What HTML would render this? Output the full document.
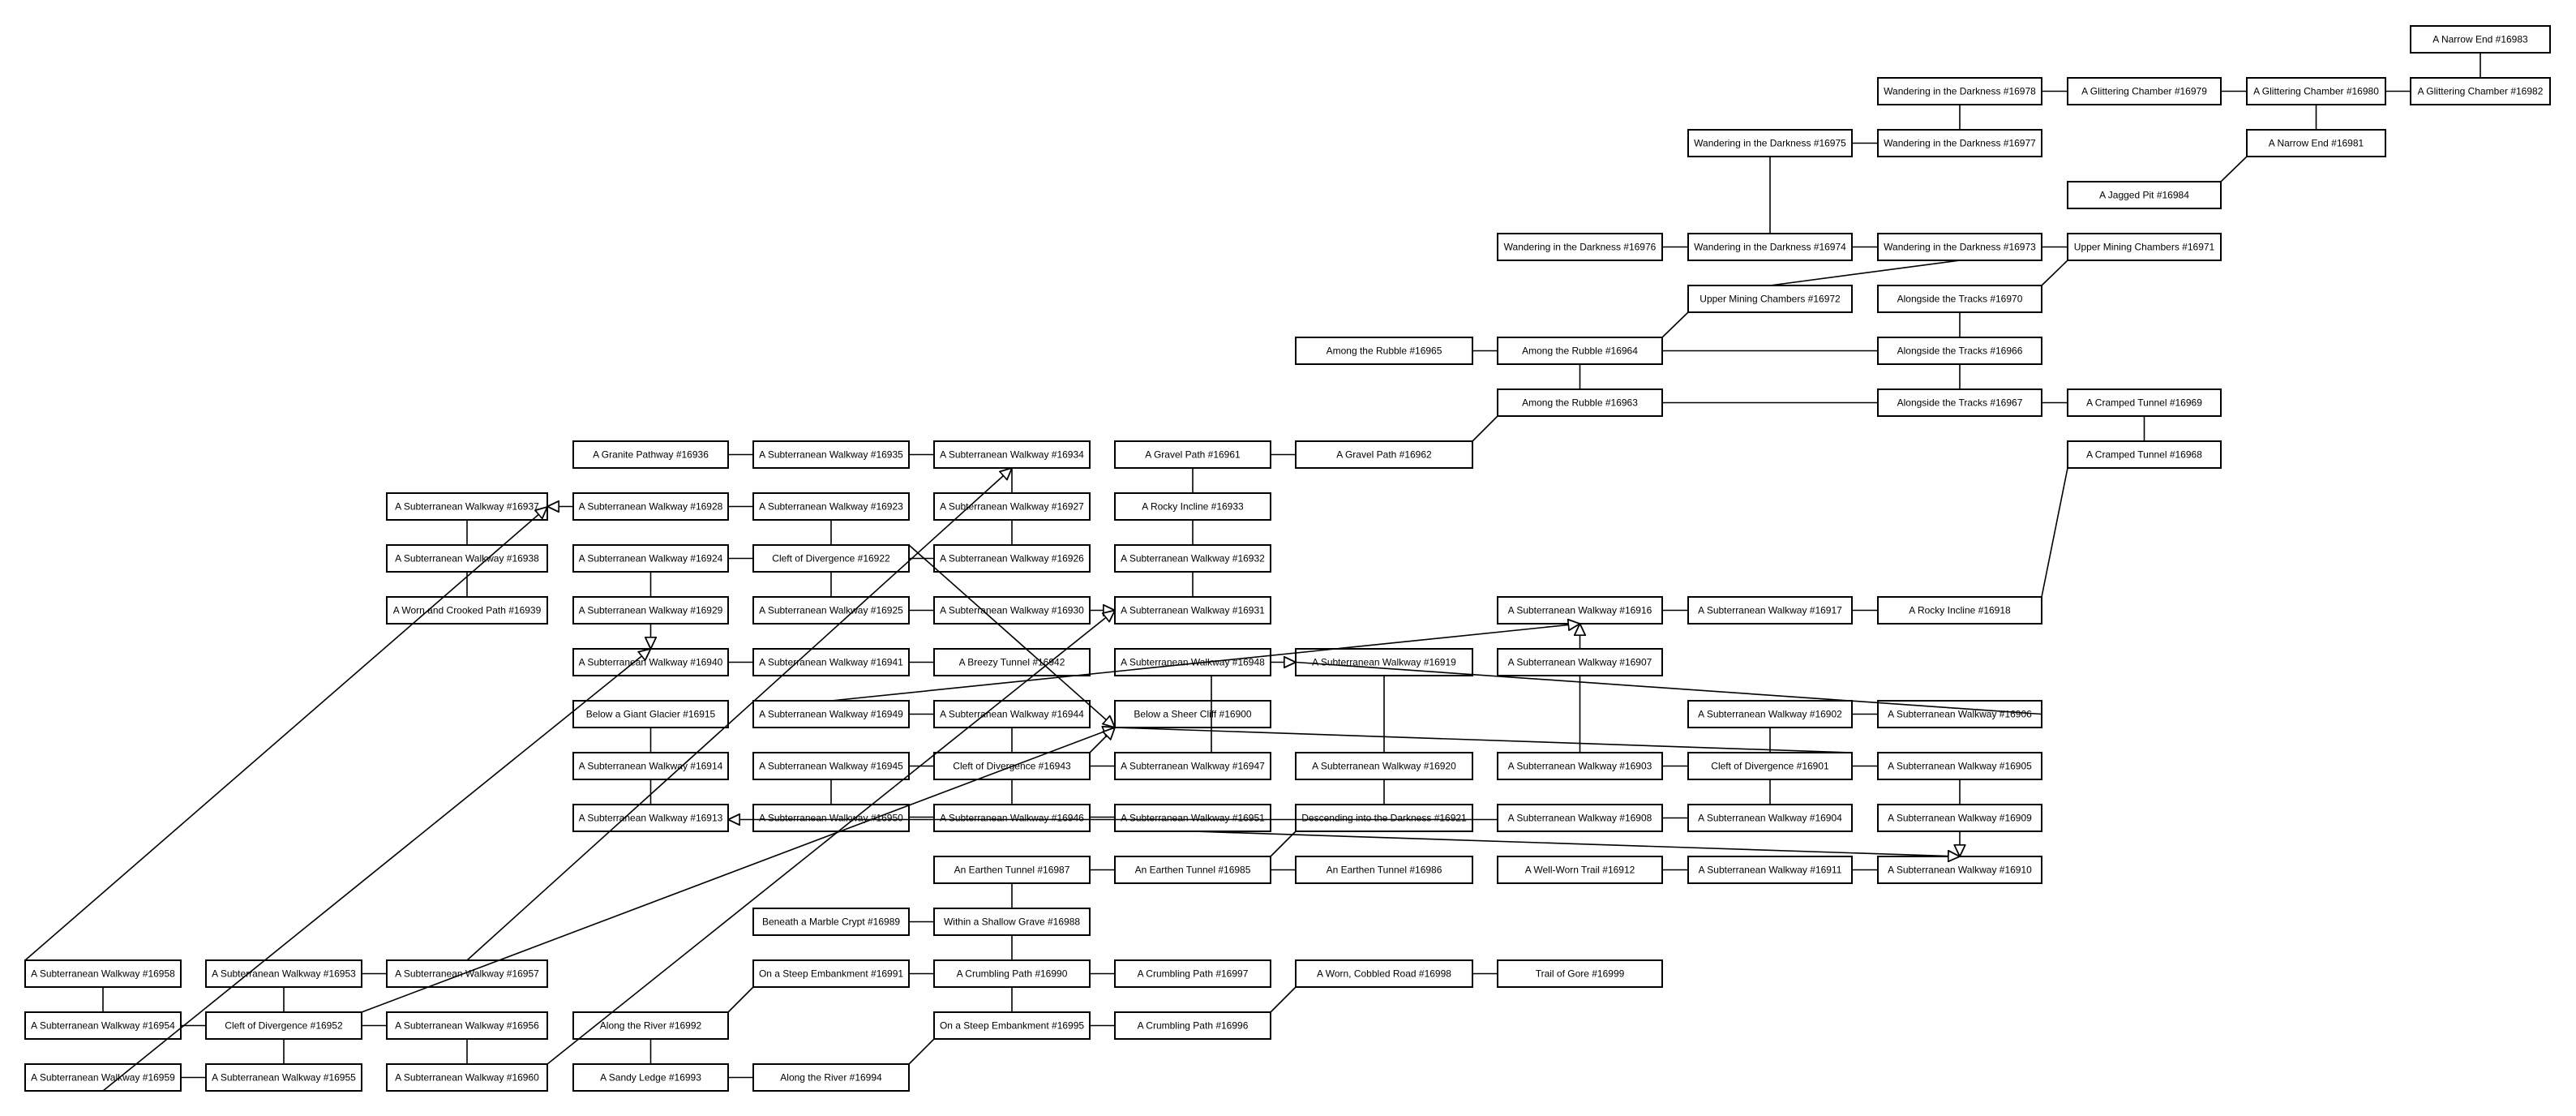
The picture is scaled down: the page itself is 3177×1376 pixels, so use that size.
<!DOCTYPE html>
<html><head><meta charset="utf-8"><style>
html,body{margin:0;padding:0;background:#fff;}
svg{display:block;}
text{font-family:"Liberation Sans",sans-serif;font-size:12px;text-anchor:middle;fill:#000;}
rect{fill:#fff;stroke:#000;stroke-width:2;}
line{stroke:#000;stroke-width:1.6;}
</style></head><body>
<svg width="3177" height="1376" viewBox="0 0 3177 1376" xmlns="http://www.w3.org/2000/svg">
<defs>
<marker id="a" viewBox="0 0 10 10" refX="10" refY="5" markerWidth="15" markerHeight="15" markerUnits="userSpaceOnUse" orient="auto">
<path d="M0.5,0.5 L10,5 L0.5,9.5 z" fill="#fff" stroke="#000" stroke-width="1.2"/>
</marker>
</defs>
<g>
<!-- r0 -->
<rect x="2973" y="32" width="172" height="33"/><text x="3059" y="52.5">A Narrow End #16983</text>
<!-- r1 -->
<rect x="2316" y="96" width="202" height="33"/><text x="2417" y="116.5">Wandering in the Darkness #16978</text>
<rect x="2550" y="96" width="189" height="33"/><text x="2644.5" y="116.5">A Glittering Chamber #16979</text>
<rect x="2771" y="96" width="171" height="33"/><text x="2856.5" y="116.5">A Glittering Chamber #16980</text>
<rect x="2973" y="96" width="172" height="33"/><text x="3059" y="116.5">A Glittering Chamber #16982</text>
<!-- r2 -->
<rect x="2082" y="160" width="202" height="33"/><text x="2183" y="180.5">Wandering in the Darkness #16975</text>
<rect x="2316" y="160" width="202" height="33"/><text x="2417" y="180.5">Wandering in the Darkness #16977</text>
<rect x="2771" y="160" width="171" height="33"/><text x="2856.5" y="180.5">A Narrow End #16981</text>
<!-- r3 -->
<rect x="2550" y="224" width="189" height="33"/><text x="2644.5" y="244.5">A Jagged Pit #16984</text>
<!-- r4 -->
<rect x="1847" y="288" width="203" height="33"/><text x="1948.5" y="308.5">Wandering in the Darkness #16976</text>
<rect x="2082" y="288" width="202" height="33"/><text x="2183" y="308.5">Wandering in the Darkness #16974</text>
<rect x="2316" y="288" width="202" height="33"/><text x="2417" y="308.5">Wandering in the Darkness #16973</text>
<rect x="2550" y="288" width="189" height="33"/><text x="2644.5" y="308.5">Upper Mining Chambers #16971</text>
<!-- r5 -->
<rect x="2082" y="352" width="202" height="33"/><text x="2183" y="372.5">Upper Mining Chambers #16972</text>
<rect x="2316" y="352" width="202" height="33"/><text x="2417" y="372.5">Alongside the Tracks #16970</text>
<!-- r6 -->
<rect x="1598" y="416" width="218" height="33"/><text x="1707" y="436.5">Among the Rubble #16965</text>
<rect x="1847" y="416" width="203" height="33"/><text x="1948.5" y="436.5">Among the Rubble #16964</text>
<rect x="2316" y="416" width="202" height="33"/><text x="2417" y="436.5">Alongside the Tracks #16966</text>
<!-- r7 -->
<rect x="1847" y="480" width="203" height="33"/><text x="1948.5" y="500.5">Among the Rubble #16963</text>
<rect x="2316" y="480" width="202" height="33"/><text x="2417" y="500.5">Alongside the Tracks #16967</text>
<rect x="2550" y="480" width="189" height="33"/><text x="2644.5" y="500.5">A Cramped Tunnel #16969</text>
<!-- r8 -->
<rect x="707" y="544" width="191" height="33"/><text x="802.5" y="564.5">A Granite Pathway #16936</text>
<rect x="929" y="544" width="192" height="33"/><text x="1025" y="564.5">A Subterranean Walkway #16935</text>
<rect x="1152" y="544" width="192" height="33"/><text x="1248" y="564.5">A Subterranean Walkway #16934</text>
<rect x="1375" y="544" width="192" height="33"/><text x="1471" y="564.5">A Gravel Path #16961</text>
<rect x="1598" y="544" width="218" height="33"/><text x="1707" y="564.5">A Gravel Path #16962</text>
<rect x="2550" y="544" width="189" height="33"/><text x="2644.5" y="564.5">A Cramped Tunnel #16968</text>
<!-- r9 -->
<rect x="477" y="608" width="198" height="33"/><text x="576" y="628.5">A Subterranean Walkway #16937</text>
<rect x="707" y="608" width="191" height="33"/><text x="802.5" y="628.5">A Subterranean Walkway #16928</text>
<rect x="929" y="608" width="192" height="33"/><text x="1025" y="628.5">A Subterranean Walkway #16923</text>
<rect x="1152" y="608" width="192" height="33"/><text x="1248" y="628.5">A Subterranean Walkway #16927</text>
<rect x="1375" y="608" width="192" height="33"/><text x="1471" y="628.5">A Rocky Incline #16933</text>
<!-- r10 -->
<rect x="477" y="672" width="198" height="33"/><text x="576" y="692.5">A Subterranean Walkway #16938</text>
<rect x="707" y="672" width="191" height="33"/><text x="802.5" y="692.5">A Subterranean Walkway #16924</text>
<rect x="929" y="672" width="192" height="33"/><text x="1025" y="692.5">Cleft of Divergence #16922</text>
<rect x="1152" y="672" width="192" height="33"/><text x="1248" y="692.5">A Subterranean Walkway #16926</text>
<rect x="1375" y="672" width="192" height="33"/><text x="1471" y="692.5">A Subterranean Walkway #16932</text>
<!-- r11 -->
<rect x="477" y="736" width="198" height="33"/><text x="576" y="756.5">A Worn and Crooked Path #16939</text>
<rect x="707" y="736" width="191" height="33"/><text x="802.5" y="756.5">A Subterranean Walkway #16929</text>
<rect x="929" y="736" width="192" height="33"/><text x="1025" y="756.5">A Subterranean Walkway #16925</text>
<rect x="1152" y="736" width="192" height="33"/><text x="1248" y="756.5">A Subterranean Walkway #16930</text>
<rect x="1375" y="736" width="192" height="33"/><text x="1471" y="756.5">A Subterranean Walkway #16931</text>
<rect x="1847" y="736" width="203" height="33"/><text x="1948.5" y="756.5">A Subterranean Walkway #16916</text>
<rect x="2082" y="736" width="202" height="33"/><text x="2183" y="756.5">A Subterranean Walkway #16917</text>
<rect x="2316" y="736" width="202" height="33"/><text x="2417" y="756.5">A Rocky Incline #16918</text>
<!-- r12 -->
<rect x="707" y="800" width="191" height="33"/><text x="802.5" y="820.5">A Subterranean Walkway #16940</text>
<rect x="929" y="800" width="192" height="33"/><text x="1025" y="820.5">A Subterranean Walkway #16941</text>
<rect x="1152" y="800" width="192" height="33"/><text x="1248" y="820.5">A Breezy Tunnel #16942</text>
<rect x="1375" y="800" width="192" height="33"/><text x="1471" y="820.5">A Subterranean Walkway #16948</text>
<rect x="1598" y="800" width="218" height="33"/><text x="1707" y="820.5">A Subterranean Walkway #16919</text>
<rect x="1847" y="800" width="203" height="33"/><text x="1948.5" y="820.5">A Subterranean Walkway #16907</text>
<!-- r13 -->
<rect x="707" y="864" width="191" height="33"/><text x="802.5" y="884.5">Below a Giant Glacier #16915</text>
<rect x="929" y="864" width="192" height="33"/><text x="1025" y="884.5">A Subterranean Walkway #16949</text>
<rect x="1152" y="864" width="192" height="33"/><text x="1248" y="884.5">A Subterranean Walkway #16944</text>
<rect x="1375" y="864" width="192" height="33"/><text x="1471" y="884.5">Below a Sheer Cliff #16900</text>
<rect x="2082" y="864" width="202" height="33"/><text x="2183" y="884.5">A Subterranean Walkway #16902</text>
<rect x="2316" y="864" width="202" height="33"/><text x="2417" y="884.5">A Subterranean Walkway #16906</text>
<!-- r14 -->
<rect x="707" y="928" width="191" height="33"/><text x="802.5" y="948.5">A Subterranean Walkway #16914</text>
<rect x="929" y="928" width="192" height="33"/><text x="1025" y="948.5">A Subterranean Walkway #16945</text>
<rect x="1152" y="928" width="192" height="33"/><text x="1248" y="948.5">Cleft of Divergence #16943</text>
<rect x="1375" y="928" width="192" height="33"/><text x="1471" y="948.5">A Subterranean Walkway #16947</text>
<rect x="1598" y="928" width="218" height="33"/><text x="1707" y="948.5">A Subterranean Walkway #16920</text>
<rect x="1847" y="928" width="203" height="33"/><text x="1948.5" y="948.5">A Subterranean Walkway #16903</text>
<rect x="2082" y="928" width="202" height="33"/><text x="2183" y="948.5">Cleft of Divergence #16901</text>
<rect x="2316" y="928" width="202" height="33"/><text x="2417" y="948.5">A Subterranean Walkway #16905</text>
<!-- r15 -->
<rect x="707" y="992" width="191" height="33"/><text x="802.5" y="1012.5">A Subterranean Walkway #16913</text>
<rect x="929" y="992" width="192" height="33"/><text x="1025" y="1012.5">A Subterranean Walkway #16950</text>
<rect x="1152" y="992" width="192" height="33"/><text x="1248" y="1012.5">A Subterranean Walkway #16946</text>
<rect x="1375" y="992" width="192" height="33"/><text x="1471" y="1012.5">A Subterranean Walkway #16951</text>
<rect x="1598" y="992" width="218" height="33"/><text x="1707" y="1012.5">Descending into the Darkness #16921</text>
<rect x="1847" y="992" width="203" height="33"/><text x="1948.5" y="1012.5">A Subterranean Walkway #16908</text>
<rect x="2082" y="992" width="202" height="33"/><text x="2183" y="1012.5">A Subterranean Walkway #16904</text>
<rect x="2316" y="992" width="202" height="33"/><text x="2417" y="1012.5">A Subterranean Walkway #16909</text>
<!-- r16 -->
<rect x="1152" y="1056" width="192" height="33"/><text x="1248" y="1076.5">An Earthen Tunnel #16987</text>
<rect x="1375" y="1056" width="192" height="33"/><text x="1471" y="1076.5">An Earthen Tunnel #16985</text>
<rect x="1598" y="1056" width="218" height="33"/><text x="1707" y="1076.5">An Earthen Tunnel #16986</text>
<rect x="1847" y="1056" width="203" height="33"/><text x="1948.5" y="1076.5">A Well-Worn Trail #16912</text>
<rect x="2082" y="1056" width="202" height="33"/><text x="2183" y="1076.5">A Subterranean Walkway #16911</text>
<rect x="2316" y="1056" width="202" height="33"/><text x="2417" y="1076.5">A Subterranean Walkway #16910</text>
<!-- r17 -->
<rect x="929" y="1120" width="192" height="33"/><text x="1025" y="1140.5">Beneath a Marble Crypt #16989</text>
<rect x="1152" y="1120" width="192" height="33"/><text x="1248" y="1140.5">Within a Shallow Grave #16988</text>
<!-- r18 -->
<rect x="31" y="1184" width="192" height="33"/><text x="127" y="1204.5">A Subterranean Walkway #16958</text>
<rect x="254" y="1184" width="192" height="33"/><text x="350" y="1204.5">A Subterranean Walkway #16953</text>
<rect x="477" y="1184" width="198" height="33"/><text x="576" y="1204.5">A Subterranean Walkway #16957</text>
<rect x="929" y="1184" width="192" height="33"/><text x="1025" y="1204.5">On a Steep Embankment #16991</text>
<rect x="1152" y="1184" width="192" height="33"/><text x="1248" y="1204.5">A Crumbling Path #16990</text>
<rect x="1375" y="1184" width="192" height="33"/><text x="1471" y="1204.5">A Crumbling Path #16997</text>
<rect x="1598" y="1184" width="218" height="33"/><text x="1707" y="1204.5">A Worn, Cobbled Road #16998</text>
<rect x="1847" y="1184" width="203" height="33"/><text x="1948.5" y="1204.5">Trail of Gore #16999</text>
<!-- r19 -->
<rect x="31" y="1248" width="192" height="33"/><text x="127" y="1268.5">A Subterranean Walkway #16954</text>
<rect x="254" y="1248" width="192" height="33"/><text x="350" y="1268.5">Cleft of Divergence #16952</text>
<rect x="477" y="1248" width="198" height="33"/><text x="576" y="1268.5">A Subterranean Walkway #16956</text>
<rect x="707" y="1248" width="191" height="33"/><text x="802.5" y="1268.5">Along the River #16992</text>
<rect x="1152" y="1248" width="192" height="33"/><text x="1248" y="1268.5">On a Steep Embankment #16995</text>
<rect x="1375" y="1248" width="192" height="33"/><text x="1471" y="1268.5">A Crumbling Path #16996</text>
<!-- r20 -->
<rect x="31" y="1312" width="192" height="33"/><text x="127" y="1332.5">A Subterranean Walkway #16959</text>
<rect x="254" y="1312" width="192" height="33"/><text x="350" y="1332.5">A Subterranean Walkway #16955</text>
<rect x="477" y="1312" width="198" height="33"/><text x="576" y="1332.5">A Subterranean Walkway #16960</text>
<rect x="707" y="1312" width="191" height="33"/><text x="802.5" y="1332.5">A Sandy Ledge #16993</text>
<rect x="929" y="1312" width="192" height="33"/><text x="1025" y="1332.5">Along the River #16994</text>
</g>
<g>
<!-- horizontal edges -->
<line x1="2518" y1="112.5" x2="2550" y2="112.5"/>
<line x1="2739" y1="112.5" x2="2771" y2="112.5"/>
<line x1="2942" y1="112.5" x2="2973" y2="112.5"/>
<line x1="2284" y1="176.5" x2="2316" y2="176.5"/>
<line x1="2050" y1="304.5" x2="2082" y2="304.5"/>
<line x1="2284" y1="304.5" x2="2316" y2="304.5"/>
<line x1="2518" y1="304.5" x2="2550" y2="304.5"/>
<line x1="1816" y1="432.5" x2="1847" y2="432.5"/>
<line x1="2050" y1="432.5" x2="2316" y2="432.5"/>
<line x1="2050" y1="496.5" x2="2316" y2="496.5"/>
<line x1="2518" y1="496.5" x2="2550" y2="496.5"/>
<line x1="898" y1="560.5" x2="929" y2="560.5"/>
<line x1="1121" y1="560.5" x2="1152" y2="560.5"/>
<line x1="1567" y1="560.5" x2="1598" y2="560.5"/>
<line x1="707" y1="624.5" x2="675" y2="624.5" marker-end="url(#a)"/>
<line x1="898" y1="624.5" x2="929" y2="624.5"/>
<line x1="898" y1="688.5" x2="929" y2="688.5"/>
<line x1="1121" y1="688.5" x2="1152" y2="688.5"/>
<line x1="1121" y1="752.5" x2="1152" y2="752.5"/>
<line x1="1344" y1="752.5" x2="1375" y2="752.5" marker-end="url(#a)"/>
<line x1="2050" y1="752.5" x2="2082" y2="752.5"/>
<line x1="2284" y1="752.5" x2="2316" y2="752.5"/>
<line x1="898" y1="816.5" x2="929" y2="816.5"/>
<line x1="1121" y1="816.5" x2="1152" y2="816.5"/>
<line x1="1567" y1="816.5" x2="1598" y2="816.5" marker-end="url(#a)"/>
<line x1="1121" y1="880.5" x2="1152" y2="880.5"/>
<line x1="2284" y1="880.5" x2="2316" y2="880.5"/>
<line x1="1121" y1="944.5" x2="1152" y2="944.5"/>
<line x1="1344" y1="944.5" x2="1375" y2="944.5"/>
<line x1="2050" y1="944.5" x2="2082" y2="944.5"/>
<line x1="2284" y1="944.5" x2="2316" y2="944.5"/>
<line x1="1847" y1="1010.5" x2="898" y2="1010.5" marker-end="url(#a)"/>
<line x1="1121" y1="1007.5" x2="1152" y2="1007.5"/>
<line x1="1344" y1="1007.5" x2="1375" y2="1007.5"/>
<line x1="2050" y1="1008.5" x2="2082" y2="1008.5"/>
<line x1="1344" y1="1072.5" x2="1375" y2="1072.5"/>
<line x1="1567" y1="1072.5" x2="1598" y2="1072.5"/>
<line x1="2050" y1="1072.5" x2="2082" y2="1072.5"/>
<line x1="2284" y1="1072.5" x2="2316" y2="1072.5"/>
<line x1="1121" y1="1136.5" x2="1152" y2="1136.5"/>
<line x1="446" y1="1200.5" x2="477" y2="1200.5"/>
<line x1="1121" y1="1200.5" x2="1152" y2="1200.5"/>
<line x1="1344" y1="1200.5" x2="1375" y2="1200.5"/>
<line x1="1816" y1="1200.5" x2="1847" y2="1200.5"/>
<line x1="223" y1="1264.5" x2="254" y2="1264.5"/>
<line x1="446" y1="1264.5" x2="477" y2="1264.5"/>
<line x1="1344" y1="1264.5" x2="1375" y2="1264.5"/>
<line x1="223" y1="1328.5" x2="254" y2="1328.5"/>
<line x1="898" y1="1328.5" x2="929" y2="1328.5"/>
<!-- vertical edges -->
<line x1="3059" y1="65" x2="3059" y2="96"/>
<line x1="2417" y1="129" x2="2417" y2="160"/>
<line x1="2856.5" y1="129" x2="2856.5" y2="160"/>
<line x1="2183" y1="193" x2="2183" y2="288"/>
<line x1="2417" y1="385" x2="2417" y2="416"/>
<line x1="2417" y1="449" x2="2417" y2="480"/>
<line x1="1948.5" y1="449" x2="1948.5" y2="480"/>
<line x1="2644.5" y1="513" x2="2644.5" y2="544"/>
<line x1="1471" y1="577" x2="1471" y2="608"/>
<line x1="1471" y1="641" x2="1471" y2="672"/>
<line x1="1471" y1="705" x2="1471" y2="736"/>
<line x1="1494" y1="833" x2="1494" y2="928"/>
<line x1="1025" y1="641" x2="1025" y2="672"/>
<line x1="1025" y1="705" x2="1025" y2="736"/>
<line x1="1248" y1="577" x2="1248" y2="608"/>
<line x1="1248" y1="641" x2="1248" y2="672"/>
<line x1="802.5" y1="705" x2="802.5" y2="736"/>
<line x1="802.5" y1="769" x2="802.5" y2="800" marker-end="url(#a)"/>
<line x1="576" y1="641" x2="576" y2="672"/>
<line x1="576" y1="705" x2="576" y2="736"/>
<line x1="802.5" y1="897" x2="802.5" y2="928"/>
<line x1="802.5" y1="961" x2="802.5" y2="992"/>
<line x1="1707" y1="833" x2="1707" y2="928"/>
<line x1="1707" y1="961" x2="1707" y2="992"/>
<line x1="1248" y1="897" x2="1248" y2="928"/>
<line x1="1248" y1="961" x2="1248" y2="992"/>
<line x1="1025" y1="961" x2="1025" y2="992"/>
<line x1="1948.5" y1="800" x2="1948.5" y2="769" marker-end="url(#a)"/>
<line x1="1948.5" y1="833" x2="1948.5" y2="928"/>
<line x1="2183" y1="897" x2="2183" y2="928"/>
<line x1="2183" y1="961" x2="2183" y2="992"/>
<line x1="2417" y1="961" x2="2417" y2="992"/>
<line x1="2417" y1="1025" x2="2417" y2="1056" marker-end="url(#a)"/>
<line x1="1248" y1="1089" x2="1248" y2="1120"/>
<line x1="1248" y1="1153" x2="1248" y2="1184"/>
<line x1="1248" y1="1217" x2="1248" y2="1248"/>
<line x1="802.5" y1="1281" x2="802.5" y2="1312"/>
<line x1="127" y1="1217" x2="127" y2="1248"/>
<line x1="350" y1="1217" x2="350" y2="1248"/>
<line x1="350" y1="1281" x2="350" y2="1312"/>
<line x1="576" y1="1281" x2="576" y2="1312"/>
<!-- diagonals -->
<line x1="2771" y1="193" x2="2739" y2="224"/>
<line x1="2417" y1="321" x2="2183" y2="352"/>
<line x1="2550" y1="321" x2="2518" y2="352"/>
<line x1="2050" y1="416" x2="2082" y2="385"/>
<line x1="1847" y1="513" x2="1816" y2="544"/>
<line x1="2550" y1="577" x2="2518" y2="736"/>
<line x1="31" y1="1184" x2="675" y2="625" marker-end="url(#a)"/>
<line x1="127" y1="1345" x2="802.5" y2="800" marker-end="url(#a)"/>
<line x1="576" y1="1184" x2="1248" y2="577" marker-end="url(#a)"/>
<line x1="446" y1="1248" x2="1375" y2="897" marker-end="url(#a)"/>
<line x1="675" y1="1312" x2="1375" y2="752.5" marker-end="url(#a)"/>
<line x1="1121" y1="672" x2="1375" y2="897" marker-end="url(#a)"/>
<line x1="1344" y1="928" x2="1375" y2="897" marker-end="url(#a)"/>
<line x1="1375" y1="897" x2="2284" y2="928"/>
<line x1="1025" y1="864" x2="1948.5" y2="769" marker-end="url(#a)"/>
<line x1="1598" y1="816.5" x2="2518" y2="880.5"/>
<line x1="1471" y1="1025" x2="2417" y2="1056" marker-end="url(#a)"/>
<line x1="1598" y1="1025" x2="1567" y2="1056"/>
<line x1="1567" y1="1248" x2="1598" y2="1217"/>
<line x1="929" y1="1217" x2="898" y2="1248"/>
<line x1="1121" y1="1312" x2="1152" y2="1281"/>
</g>
</svg>
</body></html>
